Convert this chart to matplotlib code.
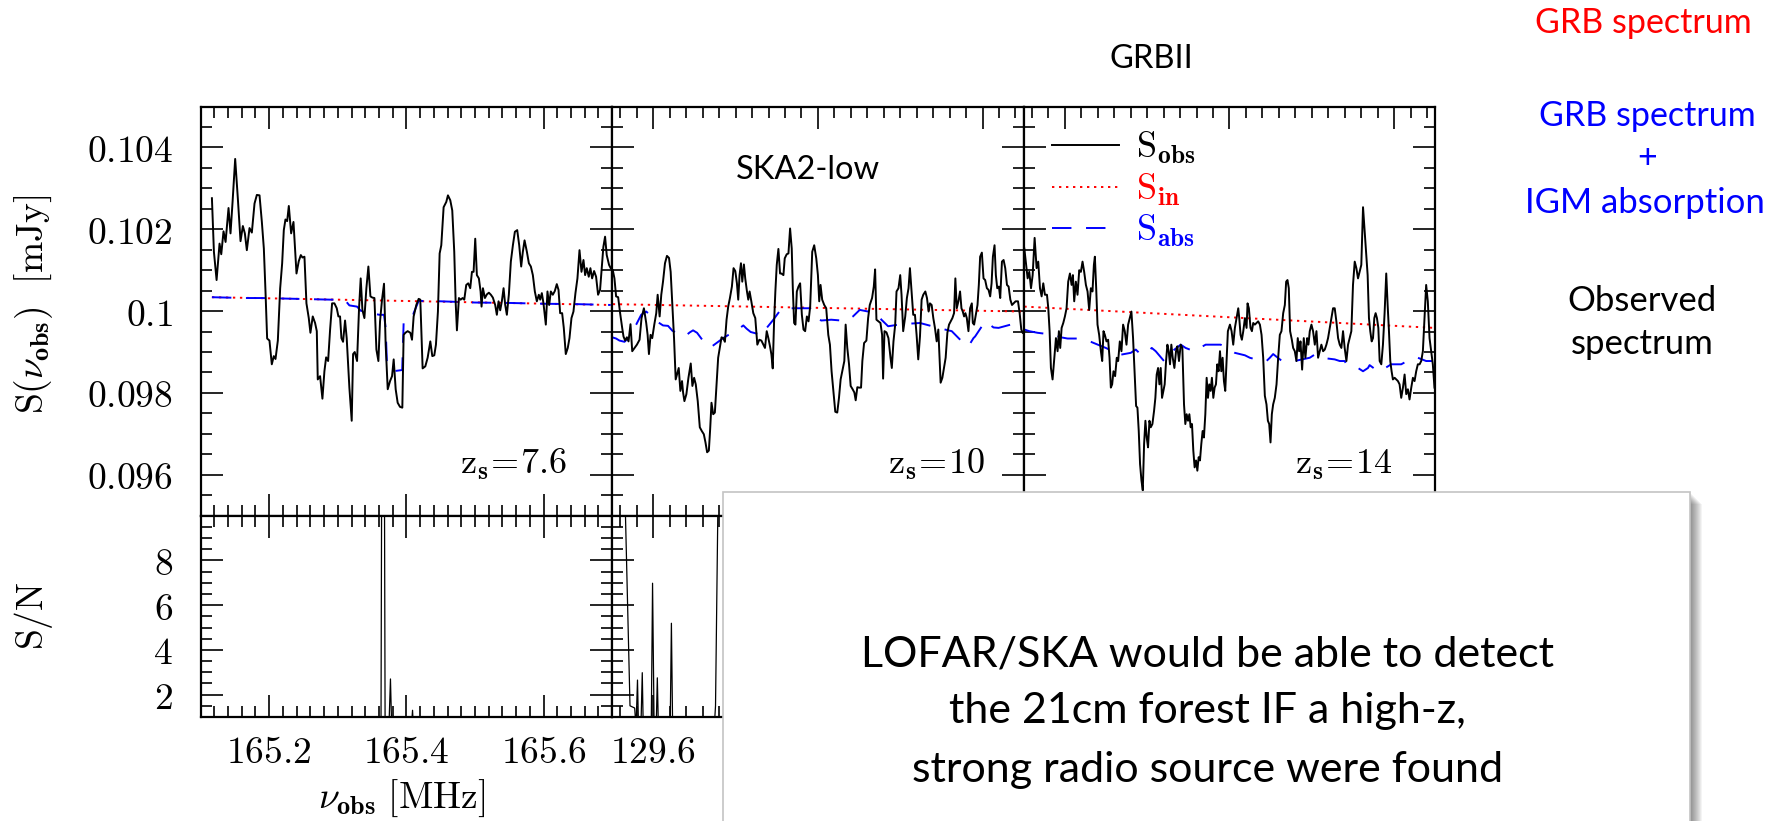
import matplotlib.pyplot as plt
from matplotlib.ticker import MultipleLocator, FixedLocator, FuncFormatter
from matplotlib.lines import Line2D
from matplotlib.patches import Rectangle

plt.rcParams['mathtext.fontset'] = 'cm'
plt.rcParams['font.family'] = ['Lato', 'DejaVu Sans']

# ---- z_s = 7.6 : observed spectrum (frequency in MHz, flux in mJy)
f1 = [165.1165, 165.1194, 165.1233, 165.1276, 165.1301, 165.1334, 165.1364, 165.1407, 165.1436, 165.1466,
      165.1504, 165.1543, 165.1582, 165.1616, 165.1645, 165.1674, 165.1713, 165.1747, 165.1786, 165.1820,
      165.1859, 165.1893, 165.1922, 165.1946, 165.1970, 165.2004, 165.2038, 165.2067, 165.2092, 165.2126,
      165.2160, 165.2189, 165.2213, 165.2237, 165.2262, 165.2286, 165.2320, 165.2354, 165.2398, 165.2431,
      165.2461, 165.2485, 165.2514, 165.2543, 165.2577, 165.2601, 165.2635, 165.2669, 165.2694, 165.2708,
      165.2742, 165.2776, 165.2805, 165.2830, 165.2859, 165.2888, 165.2917, 165.2951, 165.2985, 165.3009,
      165.3033, 165.3053, 165.3077, 165.3106, 165.3130, 165.3169, 165.3203, 165.3223, 165.3247, 165.3281,
      165.3310, 165.3334, 165.3359, 165.3388, 165.3417, 165.3446, 165.3476, 165.3505, 165.3534, 165.3563,
      165.3592, 165.3616, 165.3645, 165.3674, 165.3698, 165.3728, 165.3762, 165.3791, 165.3815, 165.3844,
      165.3873, 165.3907, 165.3941, 165.3960,
      165.3985, 165.4019, 165.4058, 165.4082, 165.4106, 165.4145, 165.4179, 165.4203, 165.4237, 165.4276,
      165.4310, 165.4349, 165.4378, 165.4407, 165.4431, 165.4460, 165.4485, 165.4509, 165.4543, 165.4582,
      165.4606, 165.4640, 165.4669, 165.4698, 165.4718, 165.4737, 165.4766, 165.4791, 165.4820, 165.4844,
      165.4873, 165.4902, 165.4931, 165.4956, 165.4980, 165.5004, 165.5028, 165.5057, 165.5082, 165.5096,
      165.5116, 165.5145, 165.5174, 165.5203, 165.5232, 165.5261, 165.5295, 165.5319, 165.5344, 165.5368,
      165.5392, 165.5417, 165.5441, 165.5465, 165.5494, 165.5523, 165.5553, 165.5582, 165.5616, 165.5645,
      165.5674, 165.5698, 165.5723, 165.5757, 165.5786, 165.5815, 165.5844, 165.5873, 165.5902, 165.5931,
      165.5951, 165.5975, 165.5999, 165.6033, 165.6057, 165.6082, 165.6106, 165.6135, 165.6164, 165.6193,
      165.6218, 165.6242, 165.6271, 165.6295, 165.6324, 165.6353, 165.6378, 165.6407, 165.6436, 165.6465,
      165.6494, 165.6524, 165.6553, 165.6582, 165.6606, 165.6630, 165.6659, 165.6683, 165.6708, 165.6737,
      165.6766, 165.6795, 165.6824, 165.6848, 165.6872, 165.6897, 165.6921, 165.6955, 165.6979]
s1 = [0.10276, 0.10145, 0.10076, 0.10165, 0.10139, 0.10195, 0.10169, 0.10252, 0.10190, 0.10267,
      0.10372, 0.10275, 0.10171, 0.10208, 0.10190, 0.10149, 0.10203, 0.10192, 0.10263, 0.10284,
      0.10283, 0.10218, 0.10153, 0.10048, 0.09933, 0.09928, 0.09870, 0.09890, 0.09883, 0.09928,
      0.10056, 0.10117, 0.10198, 0.10224, 0.10220, 0.10257, 0.10190, 0.10218, 0.10092, 0.10122,
      0.10137, 0.10131, 0.10133, 0.10019, 0.09983, 0.09947, 0.09987, 0.09971, 0.09951, 0.09833,
      0.09841, 0.09786, 0.09853, 0.09887, 0.09878, 0.09955, 0.10019, 0.10019, 0.10007, 0.09987,
      0.09987, 0.09934, 0.09925, 0.09977, 0.09934, 0.09813, 0.09732, 0.09895, 0.09900, 0.09878,
      0.10007, 0.10080, 0.10003, 0.09983, 0.10056, 0.10109, 0.10036, 0.10033, 0.10032, 0.09906,
      0.09878, 0.09975, 0.10028, 0.10067, 0.09918, 0.09809, 0.09829, 0.09841, 0.09882, 0.09809,
      0.09776, 0.09766, 0.09764, 0.09942,
      0.09947, 0.09951, 0.09947, 0.09930, 0.09987, 0.10015, 0.10030, 0.10028, 0.09860, 0.09865,
      0.09886, 0.09926, 0.09890, 0.09892, 0.09918, 0.09999, 0.10141, 0.10161, 0.10254, 0.10267,
      0.10283, 0.10271, 0.10246, 0.10145, 0.10024, 0.09953, 0.10032, 0.10028, 0.10032, 0.10028,
      0.10064, 0.10068, 0.10056, 0.10096, 0.10096, 0.10177, 0.10088, 0.10080, 0.10048, 0.10011,
      0.10056, 0.10032, 0.10041, 0.10045, 0.10040, 0.10033, 0.10015, 0.09991, 0.10024, 0.10002,
      0.10024, 0.10056, 0.10015, 0.09991, 0.10040, 0.10121, 0.10161, 0.10194, 0.10198, 0.10161,
      0.10109, 0.10145, 0.10173, 0.10145, 0.10117, 0.10109, 0.10088, 0.10048, 0.10024, 0.10040,
      0.10028, 0.10044, 0.10019, 0.09967, 0.10048, 0.10015, 0.10048, 0.10040, 0.10049, 0.10066,
      0.10052, 0.09995, 0.09995, 0.09959, 0.09895, 0.09910, 0.09934, 0.09983, 0.09999, 0.10044,
      0.10080, 0.10149, 0.10096, 0.10125, 0.10088, 0.10105, 0.10084, 0.10105, 0.10080, 0.10098,
      0.10084, 0.10040, 0.10052, 0.10105, 0.10157, 0.10182, 0.10137, 0.10113, 0.10105]
# intrinsic and absorbed GRB spectra
fin1 = [165.1165, 165.6979]
sin1 = [0.10034, 0.10015]
fb1 = [165.1165, 165.1400, 165.1650, 165.1900, 165.2150, 165.2400, 165.2650, 165.2900, 165.3100,
       165.3169, 165.3281, 165.3334, 165.3388, 165.3606, 165.3674, 165.3698, 165.3716, 165.3806,
       165.3939, 165.3960, 165.3980, 165.4082, 165.4106, 165.4179, 165.4500, 165.5000, 165.5500,
       165.6000, 165.6500, 165.6979]
sb1 = [0.10034, 0.10033, 0.10032, 0.10032, 0.10031, 0.10030, 0.10029, 0.10028, 0.10028,
       0.10014, 0.10011, 0.10001, 0.09999, 0.09991, 0.09991, 0.09959, 0.09874, 0.09853,
       0.09856, 0.09971, 0.09971, 0.09980, 0.09995, 0.10025, 0.10024, 0.10021, 0.10020,
       0.10018, 0.10017, 0.10015]
# signal to noise
fsn1 = [165.1165, 165.3600, 165.3630, 165.3640, 165.3680, 165.3690, 165.3740, 165.3768, 165.3790,
        165.4060, 165.4090, 165.4110, 165.6979]
sn1 = [0.0, 0.0, 0.5, 12.0, 12.0, 0.5, 0.0, 2.7, 0.0, 0.0, 1.3, 0.0, 0.0]

# ---- z_s = 10
f2 = [129.5508, 129.5528, 129.5548, 129.5573, 129.5597, 129.5622, 129.5638, 129.5658, 129.5679, 129.5699,
      129.5723, 129.5744, 129.5772, 129.5801, 129.5833, 129.5857, 129.5886, 129.5914, 129.5931, 129.5947,
      129.5967, 129.5987, 129.6012, 129.6036, 129.6053, 129.6077, 129.6097, 129.6118, 129.6142, 129.6166,
      129.6191, 129.6211, 129.6232, 129.6252, 129.6272, 129.6293, 129.6309, 129.6329, 129.6349, 129.6362,
      129.6378, 129.6402, 129.6427, 129.6455, 129.6475, 129.6496, 129.6516, 129.6540, 129.6565, 129.6589,
      129.6614, 129.6634, 129.6654, 129.6675, 129.6691, 129.6707, 129.6728, 129.6748, 129.6768, 129.6788,
      129.6809, 129.6829, 129.6849, 129.6870, 129.6890, 129.6910, 129.6931, 129.6955, 129.6975, 129.6996,
      129.7016, 129.7032, 129.7048, 129.7065, 129.7081, 129.7101, 129.7117, 129.7138, 129.7154, 129.7170,
      129.7191, 129.7215, 129.7239, 129.7264, 129.7288, 129.7313, 129.7337, 129.7357, 129.7378, 129.7398,
      129.7418, 129.7435, 129.7451, 129.7467, 129.7483, 129.7500, 129.7520, 129.7540, 129.7556, 129.7581,
      129.7597, 129.7621, 129.7642, 129.7662, 129.7682, 129.7695, 129.7711, 129.7727, 129.7744, 129.7764,
      129.7784, 129.7805, 129.7825, 129.7845, 129.7866, 129.7886, 129.7906, 129.7931, 129.7955, 129.7980,
      129.8000, 129.8016, 129.8032, 129.8052, 129.8077, 129.8101, 129.8126, 129.8146, 129.8166, 129.8191,
      129.8211, 129.8235, 129.8256, 129.8276, 129.8296, 129.8321, 129.8337, 129.8357, 129.8378, 129.8398,
      129.8422, 129.8443, 129.8459, 129.8479, 129.8500, 129.8524, 129.8540, 129.8561, 129.8589, 129.8610,
      129.8630, 129.8658, 129.8679, 129.8695, 129.8711, 129.8735, 129.8760, 129.8780, 129.8792, 129.8809,
      129.8833, 129.8857, 129.8882, 129.8898, 129.8918, 129.8939, 129.8955, 129.8979, 129.9000, 129.9016,
      129.9036, 129.9061, 129.9081, 129.9101, 129.9118, 129.9138, 129.9158, 129.9179, 129.9199, 129.9219,
      129.9240, 129.9260, 129.9280, 129.9305, 129.9325, 129.9345, 129.9361, 129.9382, 129.9402, 129.9422,
      129.9443, 129.9463, 129.9491, 129.9512, 129.9532, 129.9552, 129.9573, 129.9593, 129.9613, 129.9634,
      129.9654, 129.9670, 129.9687, 129.9707, 129.9727, 129.9744, 129.9760, 129.9776, 129.9792, 129.9809,
      129.9829, 129.9849, 129.9870, 129.9882, 129.9898, 129.9918, 129.9939, 129.9955, 129.9971, 129.9992,
      130.0012, 130.0032, 130.0053, 130.0073, 130.0093, 130.0110, 130.0126, 130.0146, 130.0162, 130.0179,
      130.0199, 130.0215, 130.0236, 130.0256, 130.0276, 130.0297, 130.0317, 130.0338, 130.0358, 130.0378,
      130.0402, 130.0431, 130.0451, 130.0471, 130.0488]
s2 = [0.10100, 0.10080, 0.10036, 0.10034, 0.09995, 0.09959, 0.09938, 0.09928, 0.09936, 0.09926,
      0.09968, 0.09902, 0.09910, 0.09918, 0.09930, 0.09983, 0.10007, 0.09971, 0.09942, 0.09895,
      0.09942, 0.09934, 0.09967, 0.09995, 0.10040, 0.09987, 0.10040, 0.10072, 0.10117, 0.10135,
      0.10130, 0.10096, 0.10015, 0.09934, 0.09833, 0.09849, 0.09861, 0.09805, 0.09829, 0.09801,
      0.09780, 0.09797, 0.09837, 0.09872, 0.09817, 0.09837, 0.09821, 0.09780, 0.09716, 0.09707,
      0.09699, 0.09679, 0.09655, 0.09659, 0.09712, 0.09776, 0.09748, 0.09752, 0.09821, 0.09886,
      0.09912, 0.09936, 0.09934, 0.09925, 0.09979, 0.10011, 0.10032, 0.10060, 0.10105, 0.10098,
      0.10068, 0.10028, 0.10088, 0.10117, 0.10072, 0.10114, 0.10080, 0.10048, 0.10028, 0.10048,
      0.10024, 0.09995, 0.09983, 0.09918, 0.09930, 0.09928, 0.09918, 0.09910, 0.09951, 0.09934,
      0.09914, 0.09894, 0.09860, 0.09971, 0.10048, 0.10113, 0.10152, 0.10092, 0.10092, 0.10088,
      0.10129, 0.10139, 0.10141, 0.10202, 0.10153, 0.10056, 0.09971, 0.09967, 0.10048, 0.10060,
      0.10068, 0.09991, 0.09955, 0.09951, 0.09987, 0.09975, 0.10011, 0.10145, 0.10161, 0.10129,
      0.10088, 0.10024, 0.10064, 0.10028, 0.10015, 0.10007, 0.09942, 0.09918, 0.09853, 0.09797,
      0.09754, 0.09752, 0.09788, 0.09833, 0.09853, 0.09878, 0.09967, 0.09910, 0.09870, 0.09817,
      0.09809, 0.09801, 0.09782, 0.09814, 0.09813, 0.09813, 0.09878, 0.09922, 0.09928, 0.09983,
      0.10015, 0.10032, 0.10060, 0.10102, 0.09979, 0.09975, 0.09971, 0.09942, 0.09835, 0.09951,
      0.09948, 0.09934, 0.09886, 0.09861, 0.09926, 0.09967, 0.10048, 0.10056, 0.10088, 0.10040,
      0.09951, 0.09987, 0.10032, 0.10056, 0.10105, 0.10048, 0.09991, 0.09991, 0.09942, 0.09882,
      0.09938, 0.10028, 0.10040, 0.10048, 0.10032, 0.09999, 0.10019, 0.10015, 0.09983, 0.09959,
      0.09926, 0.09955, 0.09825, 0.09837, 0.09861, 0.09886, 0.09947, 0.09967, 0.09975, 0.09983,
      0.09995, 0.10080, 0.10007, 0.10024, 0.10048, 0.10007, 0.09999, 0.09987, 0.09995, 0.09983,
      0.09951, 0.10007, 0.10019, 0.09971, 0.09967, 0.09991, 0.10015, 0.10064, 0.10133, 0.10143,
      0.10080, 0.10076, 0.10056, 0.10052, 0.10036, 0.10068, 0.10133, 0.10161, 0.10088, 0.10056,
      0.10060, 0.10032, 0.10121, 0.10125, 0.10105, 0.10064, 0.10060, 0.10028, 0.10015, 0.10019,
      0.10024, 0.10024, 0.09995, 0.09955, 0.09947]
fin2 = [129.5508, 130.0488]
sin2 = [0.10017, 0.09999]
fb2 = [129.5500, 129.5548, 129.5589, 129.5650, 129.5691, 129.5792, 129.5853, 129.5914, 129.6057, 129.6118,
       129.6179, 129.6232, 129.6382, 129.6443, 129.6483, 129.6532, 129.6654, 129.6707, 129.6768, 129.6849,
       129.7004, 129.7053, 129.7094, 129.7134, 129.7183, 129.7329, 129.7378, 129.7451, 129.7561, 129.7906,
       129.7947, 129.8040, 129.8162, 129.8345, 129.8426, 129.8508, 129.8711, 129.8772, 129.8853, 129.9016,
       129.9240, 129.9463, 129.9544, 129.9626, 129.9768, 129.9829, 129.9890, 129.9910, 130.0032, 130.0073,
       130.0134, 130.0195, 130.0378, 130.0479]
sb2 = [0.09936, 0.09933, 0.09928, 0.09925, 0.09933, 0.09967, 0.09991, 0.09999, 0.09973, 0.09965,
       0.09964, 0.09952, 0.09938, 0.09948, 0.09953, 0.09947, 0.09914, 0.09913, 0.09922, 0.09934,
       0.09953, 0.09959, 0.09965, 0.09957, 0.09949, 0.09941, 0.09959, 0.09977, 0.10007, 0.10007,
       0.09991, 0.09977, 0.09979, 0.09976, 0.09987, 0.10003, 0.09995, 0.09979, 0.09963, 0.09968,
       0.09971, 0.09959, 0.09955, 0.09951, 0.09922, 0.09914, 0.09934, 0.09938, 0.09975, 0.09969,
       0.09960, 0.09959, 0.09969, 0.09969]
fsn2 = [129.5508, 129.5591, 129.5649, 129.5717, 129.5774, 129.5790, 129.5808, 129.5820, 129.5850,
        129.5866, 129.5878, 129.5975, 129.5991, 129.6010, 129.6035, 129.6049, 129.6062, 129.6205,
        129.6220, 129.6235, 129.6740, 129.6756, 129.6790, 129.6900]
sn2 = [12.0, 12.0, 12.0, 1.5, 1.4, 0.5, 2.65, 0.6, 0.6,
       2.98, 0.5, 0.5, 6.98, 0.5, 0.5, 2.75, 0.5, 0.5,
       5.19, 0.5, 0.5, 1.5, 12.0, 12.0]

# ---- z_s = 14
f3 = [94.7508, 94.7548, 94.7568, 94.7589, 94.7609, 94.7633, 94.7657, 94.7677, 94.7698, 94.7718,
      94.7738, 94.7758, 94.7783, 94.7799, 94.7815, 94.7831, 94.7851, 94.7872, 94.7892, 94.7912,
      94.7928, 94.7944, 94.7961, 94.7981, 94.8001, 94.8021, 94.8041, 94.8062, 94.8082, 94.8098,
      94.8114, 94.8134, 94.8154, 94.8175, 94.8195, 94.8215, 94.8235, 94.8256, 94.8276, 94.8296,
      94.8316, 94.8336, 94.8353, 94.8365, 94.8381, 94.8397, 94.8417, 94.8438, 94.8454, 94.8470,
      94.8486, 94.8506, 94.8526, 94.8543, 94.8559, 94.8575, 94.8591, 94.8611, 94.8631, 94.8648,
      94.8668, 94.8688, 94.8708, 94.8728, 94.8749, 94.8769, 94.8789, 94.8809, 94.8829, 94.8850,
      94.8866, 94.8882, 94.8898, 94.8914, 94.8931, 94.8947, 94.8963, 94.8979, 94.8995, 94.9011,
      94.9028, 94.9044, 94.9064, 94.9084, 94.9100, 94.9116, 94.9133, 94.9149, 94.9165, 94.9181,
      94.9197, 94.9213, 94.9230, 94.9246, 94.9262, 94.9278, 94.9294, 94.9311, 94.9331, 94.9351,
      94.9367, 94.9387, 94.9408, 94.9428, 94.9448, 94.9464, 94.9480, 94.9497, 94.9513, 94.9529,
      94.9545, 94.9561, 94.9577, 94.9594, 94.9610, 94.9626, 94.9642, 94.9658, 94.9674, 94.9690,
      94.9707, 94.9723, 94.9739, 94.9755, 94.9771, 94.9787, 94.9804, 94.9820, 94.9836, 94.9852,
      94.9868, 94.9885, 94.9901, 94.9917, 94.9933, 94.9949, 94.9965, 94.9981, 95.0006,
      95.0026, 95.0046, 95.0066, 95.0087, 95.0107, 95.0119, 95.0135, 95.0151, 95.0168, 95.0188,
      95.0208, 95.0220, 95.0236, 95.0256, 95.0273, 95.0289, 95.0309, 95.0329, 95.0349, 95.0370,
      95.0390, 95.0410, 95.0430, 95.0450, 95.0467, 95.0483, 95.0499, 95.0515, 95.0531, 95.0551,
      95.0572, 95.0592, 95.0612, 95.0632, 95.0653, 95.0673, 95.0689, 95.0705, 95.0721, 95.0737,
      95.0758, 95.0774, 95.0794, 95.0814, 95.0830, 95.0847, 95.0863, 95.0883, 95.0903, 95.0923,
      95.0944, 95.0960, 95.0976, 95.0996, 95.1016, 95.1037, 95.1057, 95.1077, 95.1097, 95.1117,
      95.1138, 95.1158, 95.1178, 95.1198, 95.1219, 95.1239, 95.1259, 95.1279, 95.1299, 95.1320,
      95.1340, 95.1360, 95.1380, 95.1400, 95.1421, 95.1441, 95.1461, 95.1481, 95.1501, 95.1522,
      95.1542, 95.1562, 95.1582, 95.1602, 95.1623, 95.1643, 95.1663, 95.1679, 95.1695, 95.1711,
      95.1728, 95.1744, 95.1760, 95.1776, 95.1792, 95.1809, 95.1825, 95.1845, 95.1865, 95.1885,
      95.1905, 95.1922, 95.1938, 95.1954, 95.1970, 95.1986, 95.2007, 95.2027, 95.2047, 95.2067,
      95.2087, 95.2108, 95.2128, 95.2148, 95.2168, 95.2188, 95.2209, 95.2229, 95.2249, 95.2269,
      95.2289, 95.2310, 95.2330, 95.2350, 95.2370, 95.2390, 95.2410, 95.2431, 95.2451, 95.2471,
      95.2491]
s3 = [0.10153, 0.10080, 0.10096, 0.10056, 0.10088, 0.10179, 0.10105, 0.10121, 0.10056, 0.10036,
      0.10068, 0.10040, 0.10040, 0.10007, 0.09951, 0.09861, 0.09833, 0.09886, 0.09934, 0.09902,
      0.09951, 0.09910, 0.09959, 0.09971, 0.09987, 0.10007, 0.10072, 0.10092, 0.10064, 0.10088,
      0.10024, 0.10072, 0.10040, 0.10100, 0.10096, 0.10121, 0.10096, 0.10064, 0.10048, 0.10003,
      0.10056, 0.10048, 0.10113, 0.10133, 0.10056, 0.09967, 0.09942, 0.09902, 0.09878, 0.09951,
      0.09942, 0.09926, 0.09930, 0.09886, 0.09813, 0.09821, 0.09853, 0.09841, 0.09886, 0.09878,
      0.09926, 0.09902, 0.09967, 0.09951, 0.09918, 0.09967, 0.09983, 0.09999, 0.09934, 0.09837,
      0.09768, 0.09764, 0.09707, 0.09626, 0.09586, 0.09562, 0.09675, 0.09732, 0.09691, 0.09667,
      0.09732, 0.09716, 0.09724, 0.09756, 0.09788, 0.09845, 0.09861, 0.09821, 0.09861, 0.09788,
      0.09805, 0.09821, 0.09878, 0.09918, 0.09902, 0.09870, 0.09918, 0.09886, 0.09861, 0.09902,
      0.09914, 0.09878, 0.09918, 0.09910, 0.09772, 0.09724, 0.09748, 0.09732, 0.09748, 0.09716,
      0.09724, 0.09659, 0.09618, 0.09635, 0.09610, 0.09643, 0.09635, 0.09675, 0.09707, 0.09691,
      0.09748, 0.09837, 0.09788, 0.09821, 0.09805, 0.09837, 0.09788, 0.09813, 0.09821, 0.09870,
      0.09853, 0.09902, 0.09853, 0.09886, 0.09829, 0.09805, 0.09878, 0.09951, 0.09967,
      0.09951, 0.09918, 0.09959, 0.09983, 0.10007, 0.09983, 0.09942, 0.09930, 0.09951, 0.09983,
      0.09959, 0.10019, 0.10007, 0.09959, 0.09951, 0.09971, 0.09967, 0.09971, 0.09975, 0.09967,
      0.09942, 0.09886, 0.09793, 0.09772, 0.09732, 0.09724, 0.09679, 0.09748, 0.09772, 0.09788,
      0.09821, 0.09886, 0.09942, 0.09951, 0.09995, 0.10015, 0.10072, 0.10076, 0.10056, 0.09951,
      0.09930, 0.09910, 0.09902, 0.09878, 0.09934, 0.09902, 0.09926, 0.09857, 0.09934, 0.09886,
      0.09934, 0.09918, 0.09951, 0.09967, 0.09951, 0.09918, 0.09951, 0.09886, 0.09902, 0.09918,
      0.09902, 0.09906, 0.09918, 0.09934, 0.09959, 0.09983, 0.10007, 0.10007, 0.09975, 0.09934,
      0.09918, 0.09910, 0.09951, 0.09910, 0.09878, 0.09918, 0.09934, 0.09951, 0.10064, 0.10121,
      0.10105, 0.10080, 0.10096, 0.10113, 0.10254, 0.10194, 0.10133, 0.10088, 0.09983, 0.09951,
      0.09926, 0.09934, 0.09983, 0.09995, 0.09983, 0.09959, 0.09878, 0.09870, 0.09918, 0.09995,
      0.10092, 0.10015, 0.09951, 0.09878, 0.09853, 0.09833, 0.09837, 0.09833, 0.09829, 0.09821,
      0.09788, 0.09813, 0.09845, 0.09797, 0.09809, 0.09784, 0.09813, 0.09837, 0.09829, 0.09853,
      0.09870, 0.09870, 0.09878, 0.09902, 0.09983, 0.10064, 0.10024, 0.09934, 0.09902, 0.09870,
      0.09813]
fin3 = [94.7508, 95.2491]
sin3 = [0.10011, 0.09959]
fb3 = [94.7508, 94.7568, 94.7669, 94.7872, 94.7952, 94.8033, 94.8187, 94.8256, 94.8316, 94.8498,
       94.8579, 94.8640, 94.8801, 94.8862, 94.8923, 94.9003, 94.9056, 94.9104, 94.9205, 94.9246,
       94.9306, 94.9408, 94.9468, 94.9569, 94.9711, 94.9812, 94.9893, 95.0066, 95.0127, 95.0188,
       95.0248, 95.0390, 95.0450, 95.0491, 95.0531, 95.0632, 95.0693, 95.0774, 95.0814, 95.0976,
       95.1037, 95.1117, 95.1279, 95.1340, 95.1400, 95.1421, 95.1562, 95.1623, 95.1683, 95.1703,
       95.1804, 95.1885, 95.1966, 95.2087, 95.2168, 95.2229, 95.2289, 95.2390, 95.2471]
sb3 = [0.09955, 0.09951, 0.09947, 0.09942, 0.09936, 0.09933, 0.09933, 0.09929, 0.09925, 0.09910,
       0.09902, 0.09892, 0.09898, 0.09906, 0.09894, 0.09900, 0.09910, 0.09902, 0.09878, 0.09886,
       0.09902, 0.09918, 0.09910, 0.09902, 0.09918, 0.09918, 0.09918, 0.09898, 0.09895, 0.09892,
       0.09886, 0.09878, 0.09878, 0.09886, 0.09895, 0.09879, 0.09878, 0.09879, 0.09879, 0.09886,
       0.09894, 0.09886, 0.09882, 0.09878, 0.09878, 0.09870, 0.09861, 0.09853, 0.09861, 0.09868,
       0.09853, 0.09860, 0.09870, 0.09870, 0.09879, 0.09884, 0.09886, 0.09878, 0.09878]
fsn3 = []
sn3 = []

redshifts = ['7.6', '10', '14']
freq_ranges = [(165.1, 165.7), (129.55, 130.05), (94.75, 95.25)]
zlabel_x = [0.889, 0.906, 0.895]
# bottom tick labels are only written left of the text box
label_below = [166.0, 129.68, 0.0]

fig = plt.figure(figsize=(17.8, 8.21), dpi=100)

x0, pw = 0.1127, 0.2312
top_b, top_h = 0.3719, 0.4983
bot_b, bot_h = 0.1267, 0.2452

fmt = FuncFormatter(lambda v, pos: '$%g$' % v)


def limited_formatter(vmax):
    return FuncFormatter(lambda v, pos: '$%g$' % v if v < vmax else '')


def style_axes(ax):
    for sp in ax.spines.values():
        sp.set_linewidth(1.6)
    ax.tick_params(which='both', direction='in', top=True, right=True,
                   width=1.2, labelsize=27)
    ax.tick_params(which='major', length=16)
    ax.tick_params(which='minor', length=8)
    ax.tick_params(axis='x', pad=12)
    ax.tick_params(axis='y', pad=20)


spectra = [(f1, s1, fin1, sin1, fb1, sb1, fsn1, sn1),
           (f2, s2, fin2, sin2, fb2, sb2, fsn2, sn2),
           (f3, s3, fin3, sin3, fb3, sb3, fsn3, sn3)]

top_axes = []
for i, (f, s, fi, si, fb, sb, fsn, sn) in enumerate(spectra):
    ax = fig.add_axes([x0 + i * pw, top_b, pw, top_h])
    axb = fig.add_axes([x0 + i * pw, bot_b, pw, bot_h])

    ax.plot(fi, si, color='red', lw=1.4, ls=(0, (1.2, 2.4)))
    ax.plot(fb, sb, color='blue', lw=1.4, dashes=(10, 7.5))
    ax.plot(f, s, color='black', lw=1.4)
    ax.set_xlim(freq_ranges[i])
    ax.set_ylim(0.095, 0.105)
    ax.xaxis.set_major_locator(MultipleLocator(0.2))
    ax.xaxis.set_minor_locator(MultipleLocator(0.02))
    ax.yaxis.set_major_locator(MultipleLocator(0.002))
    ax.yaxis.set_minor_locator(MultipleLocator(0.0005))
    ax.yaxis.set_major_formatter(fmt)
    style_axes(ax)
    ax.tick_params(labelbottom=False)
    if i > 0:
        ax.tick_params(labelleft=False)
    ax.text(zlabel_x[i], 0.102, r'$\mathrm{z}_{\mathbf{s}}\!=\!%s$' % redshifts[i],
            transform=ax.transAxes, ha='right', va='baseline', fontsize=26)

    if len(fsn):
        axb.plot(fsn, sn, color='black', lw=0.9)
    axb.set_xlim(freq_ranges[i])
    axb.set_ylim(1, 10)
    axb.xaxis.set_major_locator(MultipleLocator(0.2))
    axb.xaxis.set_minor_locator(MultipleLocator(0.02))
    axb.yaxis.set_major_locator(FixedLocator([2, 4, 6, 8]))
    axb.yaxis.set_minor_locator(MultipleLocator(0.5))
    axb.xaxis.set_major_formatter(limited_formatter(label_below[i]))
    axb.yaxis.set_major_formatter(fmt)
    style_axes(axb)
    if i > 0:
        axb.tick_params(labelleft=False)
    top_axes.append(ax)

# legend in the right-hand panel
handles = [Line2D([], [], color='black', lw=1.4),
           Line2D([], [], color='red', lw=1.4, ls=(0, (1.2, 2.4))),
           Line2D([], [], color='blue', lw=1.4, dashes=(10, 7.5))]
labels = [r'$\mathrm{S}_{\mathbf{obs}}$', r'$\mathrm{S}_{\mathbf{in}}$', r'$\mathrm{S}_{\mathbf{abs}}$']
top_axes[2].legend(handles, labels, loc='upper left', bbox_to_anchor=(0.069, 0.943),
                   frameon=False, fontsize=26, handlelength=1.86, handletextpad=0.47,
                   labelspacing=0.15, borderpad=0, borderaxespad=0, labelcolor='linecolor')

# axis labels
fig.text(0.019, 1 - 304 / 821, r'$\mathrm{S}(\nu_{\mathbf{obs}})\ \ [\mathrm{mJy}]$',
         rotation=90, ha='center', va='center', fontsize=27)
fig.text(0.019, 1 - 616 / 821, r'$\mathrm{S/N}$', rotation=90, ha='center', va='center', fontsize=27)
fig.text(402 / 1780, 1 - 808 / 821, r'$\nu_{\mathbf{obs}}\ [\mathrm{MHz}]$',
         ha='center', va='baseline', fontsize=27)

# slide annotations
fig.text(808 / 1780, 1 - 179 / 821, 'SKA2-low', ha='center', va='baseline', fontsize=23.5)
fig.text(1151 / 1780, 1 - 68 / 821, 'GRBII', ha='center', va='baseline', fontsize=23.5)
fig.text(1643 / 1780, 1 - 33 / 821, 'GRB spectrum', ha='center', va='baseline',
         fontsize=24.5, color='red')
fig.text(1647 / 1780, 1 - 126 / 821, 'GRB spectrum', ha='center', va='baseline',
         fontsize=24.5, color='blue')
fig.text(1647 / 1780, 1 - 158 / 821, '+', ha='center', va='center', fontsize=24.5, color='blue')
fig.text(1645 / 1780, 1 - 213 / 821, 'IGM absorption', ha='center', va='baseline',
         fontsize=25, color='blue')
fig.text(1642 / 1780, 1 - 311 / 821, 'Observed', ha='center', va='baseline', fontsize=25)
fig.text(1642 / 1780, 1 - 354 / 821, 'spectrum', ha='center', va='baseline', fontsize=25)

# text box with a soft drop shadow on its right side
bx, by, bw, bh = 722.7 / 1780, -0.1, (1690 - 722.7) / 1780, 0.1 + (1 - 492.3 / 821)
for k in range(1, 13):
    fig.add_artist(Rectangle((bx + k / 1780, by - k / 821), bw, bh, transform=fig.transFigure,
                             facecolor='black', edgecolor='none', alpha=0.045, zorder=19))
fig.add_artist(Rectangle((bx, by), bw, bh, transform=fig.transFigure,
                         facecolor='white', edgecolor='#c4c4c4', lw=1.2, zorder=20))
box_lines = ['LOFAR/SKA would be able to detect',
             'the 21cm forest IF a high-z,',
             'strong radio source were found']
for line, yb in zip(box_lines, [666.7, 723.3, 781.7]):
    fig.text(1207.6 / 1780, 1 - yb / 821, line, ha='center', va='baseline',
             fontsize=31, zorder=21)

fig.savefig('out.png', dpi=100)
